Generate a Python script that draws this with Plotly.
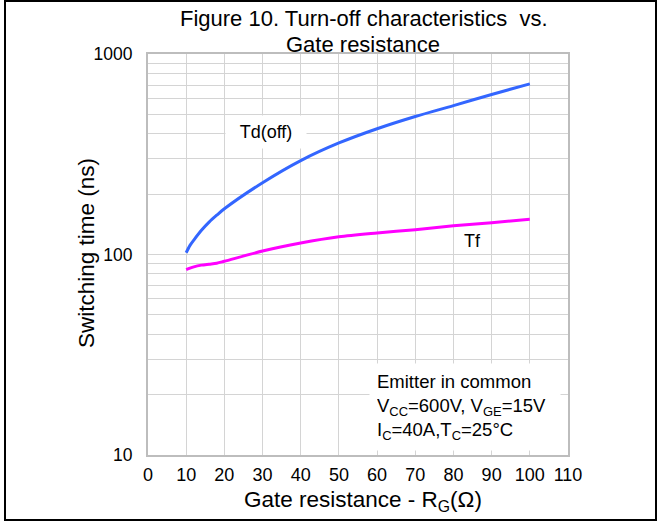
import plotly.graph_objects as go

# Gate resistance (ohm) and switching times (ns)
rg = [10, 11, 12, 14, 16, 18, 20, 30, 40, 50, 60, 70, 80, 90, 100]
td_off = [102, 111, 118, 132, 145, 157, 169, 228, 294, 360, 424, 488, 553, 628, 710]
tf = [84, 85.5, 86.8, 88.5, 89.5, 90.5, 92.5, 104, 114, 122.5, 128, 133, 139, 144, 150]

x_ticks = [0, 10, 20, 30, 40, 50, 60, 70, 80, 90, 100, 110]
decades = [10, 100, 1000]
decade_labels = ["10", "100", "1000"]

# minor grid: every 2..9 multiple inside each decade
y_minor = [m * d for d in decades[:-1] for m in range(2, 10)]

FONT = "Liberation Sans, Arial, sans-serif"
GRID = "#d4d4d4"
FRAME = "#bdbdbd"

# plot area in pixels, used to place annotations in paper units
PL, PR, PT, PB = 148, 568, 54, 455


def px_x(px):
    return (px - PL) / (PR - PL)


def px_y(py):
    return (PB - py) / (PB - PT)


fig = go.Figure()
fig.add_trace(go.Scatter(x=rg, y=td_off, mode="lines", name="Td(off)",
                         line=dict(color="#3366ff", width=3, shape="spline", smoothing=0.8)))
fig.add_trace(go.Scatter(x=rg, y=tf, mode="lines", name="Tf",
                         line=dict(color="#ff00ff", width=3, shape="spline", smoothing=0.8)))

fig.update_layout(
    width=662, height=522,
    margin=dict(l=PL, r=662 - PR, t=PT, b=522 - PB),
    paper_bgcolor="white", plot_bgcolor="white",
    showlegend=False,
    font=dict(family=FONT, color="black"),
)

fig.update_xaxes(
    range=[0, 110], tickvals=x_ticks, ticktext=[str(v) for v in x_ticks],
    showgrid=True, gridcolor=GRID, gridwidth=1, zeroline=False,
    showline=True, linecolor=FRAME, linewidth=2, mirror=True,
    ticks="", tickfont=dict(size=18), ticklabelstandoff=2,
)
fig.update_yaxes(
    type="log", range=[1, 3], tickvals=decades, ticktext=decade_labels,
    showgrid=True, gridcolor=GRID, gridwidth=1, zeroline=False,
    showline=True, linecolor=FRAME, linewidth=2, mirror=True,
    ticks="", tickfont=dict(size=17.5), ticklabelstandoff=10,
    minor=dict(tickvals=y_minor, showgrid=True, gridcolor=GRID, gridwidth=1, ticks=""),
)

# chart title, two lines
fig.add_annotation(x=px_x(364), y=px_y(18), xref="paper", yref="paper",
                   text="Figure 10. Turn-off characteristics  vs.",
                   showarrow=False, xanchor="center", yanchor="middle", font=dict(size=22))
fig.add_annotation(x=px_x(363), y=px_y(44), xref="paper", yref="paper",
                   text="Gate resistance",
                   showarrow=False, xanchor="center", yanchor="middle", font=dict(size=22))

# axis titles
fig.add_annotation(x=px_x(363), y=px_y(485), xref="paper", yref="paper",
                   text="Gate resistance - R<sub>G</sub>(Ω)",
                   showarrow=False, xanchor="center", yanchor="top", font=dict(size=22.5))
fig.add_annotation(x=px_x(87), y=px_y(253), xref="paper", yref="paper",
                   text="Switching time (ns)", textangle=-90,
                   showarrow=False, xanchor="center", yanchor="middle", font=dict(size=22.5))

# curve labels
fig.add_annotation(x=px_x(266), y=px_y(131.7), xref="paper", yref="paper", text="Td(off)",
                   showarrow=False, font=dict(size=18), bgcolor="white",
                   width=72, height=24, borderpad=4, xanchor="center", yanchor="middle")
fig.add_annotation(x=px_x(472.5), y=px_y(240.7), xref="paper", yref="paper", text="Tf",
                   showarrow=False, font=dict(size=18), xanchor="center", yanchor="middle")

# test conditions box
fig.add_annotation(
    x=px_x(369), y=px_y(363), xref="paper", yref="paper",
    text="Emitter in common<br>V<sub>CC</sub>=600V, V<sub>GE</sub>=15V<br>"
         "I<sub>C</sub>=40A,T<sub>C</sub>=25°C",
    showarrow=False, align="left", xanchor="left", yanchor="top",
    font=dict(size=18.5), bgcolor="white", borderpad=7, width=176,
)

# outer frame of the figure
fig.add_shape(type="rect", xref="paper", yref="paper",
              x0=px_x(5), x1=px_x(656), y0=px_y(520), y1=px_y(1),
              line=dict(color="black", width=2), fillcolor="rgba(0,0,0,0)")

fig.write_html("out.html")
